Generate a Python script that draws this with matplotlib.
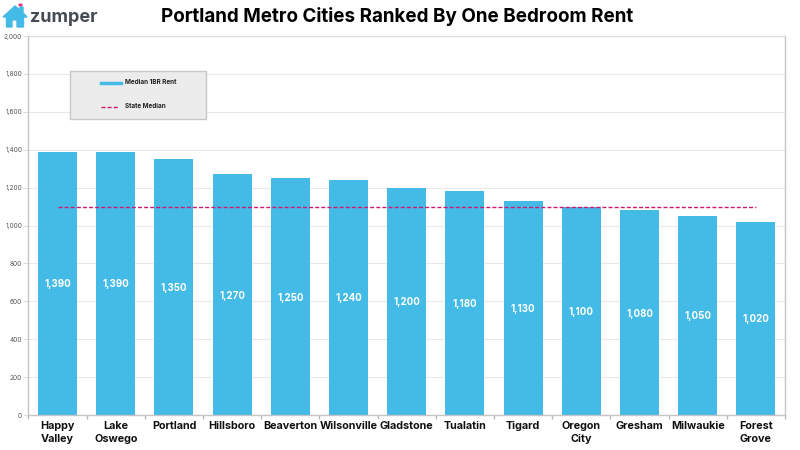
import matplotlib
matplotlib.use("Agg")
import matplotlib.pyplot as plt
from matplotlib.patches import Polygon, Rectangle, Circle

cities = ["Happy\nValley", "Lake\nOswego", "Portland", "Hillsboro", "Beaverton", "Wilsonville",
          "Gladstone", "Tualatin", "Tigard", "Oregon\nCity", "Gresham", "Milwaukie", "Forest\nGrove"]
rents = [1390, 1390, 1350, 1270, 1250, 1240, 1200, 1180, 1130, 1100, 1080, 1050, 1020]
state_median = [1100] * len(cities)
yticks = list(range(0, 2001, 200))

BLUE = "#43bbe6"
PINK = "#d0186f"
W, H = 800, 450

plt.rcParams["font.family"] = ["Inter", "DejaVu Sans"]

fig = plt.figure(figsize=(8, 4.5), dpi=100)
ax = fig.add_axes([28.5 / W, 1 - 415 / H, (785 - 28.5) / W, (415 - 36) / H])

x = list(range(len(cities)))
ax.bar(x, rents, width=0.67, color=BLUE, zorder=2)
ax.plot(x, state_median, color=PINK, lw=1, dashes=(2.9, 1.5), zorder=3)

for i, v in enumerate(rents):
    ax.text(i, v / 2 - 5, f"{v:,}", color="white", fontsize=7, fontweight="bold",
            ha="center", va="center", zorder=4)

ax.set_xlim(-0.5, len(cities) - 0.5)
ax.set_ylim(0, 2000)
ax.set_yticks(yticks)
ax.set_yticklabels([f"{t:,}" for t in yticks], fontsize=4.7, color="#555555")
ax.set_xticks([i - 0.5 for i in range(len(cities) + 1)], minor=False)
ax.set_xticklabels([])
ax.set_xticks(x, minor=True)
ax.set_xticklabels(cities, minor=True, fontsize=7.8, fontweight="bold", color="#111111", linespacing=1.3)
ax.tick_params(axis="x", which="major", length=3, color="#bbbbbb", width=1)
ax.tick_params(axis="x", which="minor", length=0, pad=4.5)
ax.tick_params(axis="y", length=3.5, color="#dddddd", width=0.8, pad=1)
ax.grid(axis="y", color="#e9e9e9", lw=0.8, zorder=0)
ax.set_axisbelow(True)
for s in ["top", "left", "right", "bottom"]:
    ax.spines[s].set_color("#c4c4c4")
    ax.spines[s].set_linewidth(1)
ax.spines["top"].set_color("#dddddd")

# title and logo
fig.text(397 / W, 1 - 16 / H, "Portland Metro Cities Ranked By One Bedroom Rent", fontsize=13.55,
         fontweight="bold", color="black", ha="center", va="center")
fig.text(30 / W, 1 - 17 / H, "zumper", fontsize=13, fontweight="bold", color="#444b52",
         ha="left", va="center")
house = [(3, 17), (15, 6), (20, 10), (20, 7), (23, 7), (23, 13), (27, 17), (23.5, 17), (23.5, 27), (17, 27),
         (17, 20), (12, 20), (12, 27), (6.5, 27), (6.5, 17)]
fig.add_artist(Polygon([(a / W, 1 - b / H) for a, b in house], closed=True, color=BLUE,
                       transform=fig.transFigure))
fig.add_artist(Circle((20.5 / W, 1 - 5 / H), 1.5 / W, color="#e8358c", transform=fig.transFigure))

# legend box
fig.add_artist(Rectangle((69.5 / W, 1 - 119 / H), 136.5 / W, 48 / H, facecolor="#ececec",
                         edgecolor="#c8c8c8", lw=1, transform=fig.transFigure, zorder=5))
fig.add_artist(plt.Line2D([101 / W, 121 / W], [1 - 83 / H, 1 - 83 / H], color=BLUE, lw=2.5,
                          transform=fig.transFigure, zorder=6))
fig.add_artist(plt.Line2D([101 / W, 119 / W], [1 - 106.5 / H, 1 - 106.5 / H], color=PINK, lw=1,
                          dashes=(2.9, 1.5), transform=fig.transFigure, zorder=6))
fig.text(124.5 / W, 1 - 82.5 / H, "Median 1BR Rent", fontsize=4.6, fontweight="bold", va="center", color="#222222", zorder=7)
fig.text(124.5 / W, 1 - 106.5 / H, "State Median", fontsize=4.6, fontweight="bold", va="center", color="#222222", zorder=7)

fig.savefig("out.png", dpi=100)
